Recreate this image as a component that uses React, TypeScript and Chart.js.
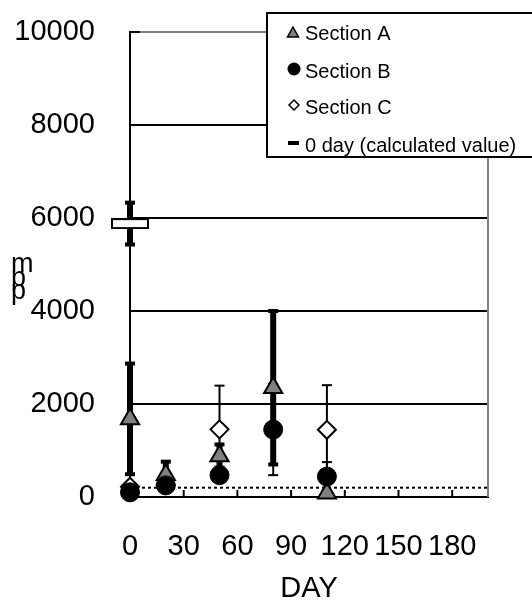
import React, { useEffect, useRef } from 'react';
import { Chart, registerables } from 'chart.js';

Chart.register(...registerables);

// ---- data ----
const days = [0, 20, 50, 80, 110];
const sectionA = [1680, 480, 880, 2350, 80];
const sectionAErr = [1190, 280, 250, 1650, 0];
const sectionB = [100, 250, 470, 1450, 440];
const sectionBErr = [0, 0, 0, 980, 310];
const sectionC: (number | null)[] = [220, 260, 1455, null, 1445];
const sectionCErr = [0, 0, 940, 0, 960];
const calcDays = [0];
const calcValues = [5880];
const calcErr = [450];
const limitValue = 200;
const xMin = 0;
const xMax = 200;
const xStep = 30;
const yMin = 0;
const yMax = 10000;
const yStep = 2000;
const seriesLabels = ['Section A', 'Section B', 'Section C', '0 day (calculated value)'];
const xTitle = 'DAY';
const yTitleChars = ['m', 'p', 'p'];

const FONT = "'Liberation Sans', Arial, sans-serif";

function toPoints(xs: number[], ys: (number | null)[]) {
  return xs.map((x, i) => ({ x, y: ys[i] }));
}

function makeCalcMarker() {
  const c = document.createElement('canvas');
  c.width = 38;
  c.height = 11;
  const g = c.getContext('2d')!;
  g.fillStyle = '#fff';
  g.fillRect(1, 1, 36, 9);
  g.strokeStyle = '#000';
  g.lineWidth = 2;
  g.strokeRect(1, 1, 36, 9);
  return c;
}

function line(ctx: CanvasRenderingContext2D, x1: number, y1: number, x2: number, y2: number) {
  ctx.beginPath();
  ctx.moveTo(x1, y1);
  ctx.lineTo(x2, y2);
  ctx.stroke();
}

const decorPlugin = {
  id: 'decor',
  beforeDatasetsDraw(chart: any) {
    const ctx: CanvasRenderingContext2D = chart.ctx;
    const xs = chart.scales.x;
    const ys = chart.scales.y;
    const area = chart.chartArea;
    ctx.save();
    // right border
    ctx.strokeStyle = '#808080';
    ctx.lineWidth = 2;
    line(ctx, area.right, area.top, area.right, area.bottom);
    // inside tick marks
    ctx.strokeStyle = '#000';
    ys.ticks.forEach((t: any) => {
      const py = ys.getPixelForValue(t.value);
      line(ctx, area.left, py, area.left + 10, py);
    });
    xs.ticks.forEach((t: any) => {
      const px = xs.getPixelForValue(t.value);
      line(ctx, px, area.bottom, px, area.bottom - 7);
    });
    // error bars
    chart.data.datasets.forEach((ds: any) => {
      if (!ds.errors) return;
      const thick = ds.errThick;
      ds.data.forEach((pt: any, j: number) => {
        if (pt.y == null) return;
        const e = ds.errors[j];
        if (!e) return;
        const px = xs.getPixelForValue(pt.x);
        const top = ys.getPixelForValue(pt.y + e);
        const bot = ys.getPixelForValue(Math.max(pt.y - e, yMin));
        ctx.strokeStyle = '#000';
        ctx.lineWidth = thick ? 6 : 2;
        line(ctx, px, top, px, bot);
        ctx.lineWidth = thick ? 4 : 2;
        const hw = 5;
        line(ctx, px - hw, top, px + hw, top);
        if (pt.y - e > yMin) line(ctx, px - hw, bot, px + hw, bot);
      });
    });
    ctx.restore();
  },
  afterDraw(chart: any) {
    const ctx: CanvasRenderingContext2D = chart.ctx;
    ctx.save();
    // legend box
    const bx = 267, by = 13, bw = 300, bh = 144;
    ctx.fillStyle = '#fff';
    ctx.fillRect(bx, by, bw, bh);
    ctx.strokeStyle = '#000';
    ctx.lineWidth = 2;
    ctx.strokeRect(bx, by, bw, bh);
    const mx = 293;
    const rowsY = [33, 71, 107, 145];
    // triangle
    ctx.fillStyle = '#808080';
    ctx.lineWidth = 1.5;
    ctx.beginPath();
    ctx.moveTo(mx, rowsY[0] - 6);
    ctx.lineTo(mx + 5.5, rowsY[0] + 4);
    ctx.lineTo(mx - 5.5, rowsY[0] + 4);
    ctx.closePath();
    ctx.fill();
    ctx.stroke();
    // circle
    ctx.fillStyle = '#000';
    ctx.beginPath();
    ctx.arc(mx + 1, rowsY[1] - 2, 6.5, 0, Math.PI * 2);
    ctx.fill();
    // diamond
    ctx.fillStyle = '#fff';
    ctx.lineWidth = 1.5;
    ctx.beginPath();
    ctx.moveTo(mx + 1, rowsY[2] - 7);
    ctx.lineTo(mx + 6, rowsY[2] - 2);
    ctx.lineTo(mx + 1, rowsY[2] + 3);
    ctx.lineTo(mx - 4, rowsY[2] - 2);
    ctx.closePath();
    ctx.fill();
    ctx.stroke();
    // dash
    ctx.fillStyle = '#000';
    ctx.fillRect(mx - 5, rowsY[3] - 4, 11, 4);
    // texts
    ctx.fillStyle = '#000';
    ctx.font = `20px ${FONT}`;
    ctx.textBaseline = 'middle';
    ctx.textAlign = 'left';
    seriesLabels.forEach((s, i) => ctx.fillText(s, 305, rowsY[i] + 1));
    // y title (stacked chars)
    ctx.font = `27px ${FONT}`;
    ctx.textBaseline = 'alphabetic';
    const baselines = [272, 286, 299];
    yTitleChars.forEach((ch, i) => ctx.fillText(ch, 11, baselines[i]));
    ctx.restore();
  },
};

export default function App() {
  const ref = useRef<HTMLCanvasElement>(null);
  useEffect(() => {
    document.body.style.margin = '0';
    const calcMarker = makeCalcMarker();
    const chart = new Chart(ref.current!, {
      type: 'scatter',
      data: {
        datasets: [
          {
            label: seriesLabels[3],
            data: toPoints(calcDays, calcValues),
            pointStyle: calcMarker as any,
            pointRadius: 6,
            clip: false as any,
            errors: calcErr,
            errThick: true,
          } as any,
          {
            label: seriesLabels[1],
            data: toPoints(days, sectionB),
            pointStyle: 'circle',
            pointRadius: 9.5,
            backgroundColor: '#000',
            borderColor: '#000',
            borderWidth: 1,
            clip: false,
            errors: sectionBErr,
            errThick: false,
          } as any,
          {
            label: seriesLabels[0],
            data: toPoints(days, sectionA),
            pointStyle: 'triangle',
            pointRadius: 10.5,
            backgroundColor: '#808080',
            borderColor: '#000',
            borderWidth: 2,
            clip: false,
            errors: sectionAErr,
            errThick: true,
          } as any,
          {
            label: seriesLabels[2],
            data: toPoints(days, sectionC),
            pointStyle: 'rectRot',
            pointRadius: 9,
            backgroundColor: '#fff',
            borderColor: '#000',
            borderWidth: 2,
            clip: false,
            errors: sectionCErr,
            errThick: false,
          } as any,
          {
            type: 'line',
            label: 'limit',
            data: [
              { x: xMin, y: limitValue },
              { x: xMax, y: limitValue },
            ],
            borderColor: '#000',
            borderWidth: 2,
            borderDash: [3, 3],
            pointRadius: 0,
            showLine: true,
            clip: false,
          } as any,
        ],
      },
      options: {
        animation: false,
        responsive: false,
        events: [],
        layout: { padding: { top: 32, right: 44, bottom: 0, left: 0 } },
        plugins: { legend: { display: false }, tooltip: { enabled: false } },
        scales: {
          x: {
            type: 'linear',
            min: xMin,
            max: xMax,
            afterFit: (s: any) => {
              s.height = 106;
            },
            ticks: {
              stepSize: xStep,
              includeBounds: false,
              autoSkip: false,
              maxRotation: 0,
              minRotation: 0,
              padding: 33,
              color: '#000',
              font: { family: FONT, size: 29 },
              callback: (v: any) => String(v),
            },
            grid: { display: false, drawTicks: false },
            border: { display: true, color: '#000', width: 2 },
            title: {
              display: true,
              text: xTitle,
              color: '#000',
              font: { family: FONT, size: 29, lineHeight: 1 },
              padding: 0,
            },
          },
          y: {
            type: 'linear',
            min: yMin,
            max: yMax,
            afterFit: (s: any) => {
              s.width = 130;
            },
            ticks: {
              stepSize: yStep,
              padding: 0,
              color: '#000',
              font: { family: FONT, size: 29 },
              callback: (v: any) => String(v),
            },
            grid: {
              drawTicks: true,
              tickLength: 35,
              tickColor: 'rgba(0,0,0,0)',
              lineWidth: 2,
              color: (c: any) => (c.tick && c.tick.value === yMax ? '#808080' : '#000'),
            },
            border: { display: true, color: '#000', width: 2 },
          },
        },
      },
      plugins: [decorPlugin],
    });
    return () => chart.destroy();
  }, []);
  return (
    <div style={{ width: 532, height: 603, background: '#fff' }}>
      <canvas ref={ref} width={532} height={603} />
    </div>
  );
}
